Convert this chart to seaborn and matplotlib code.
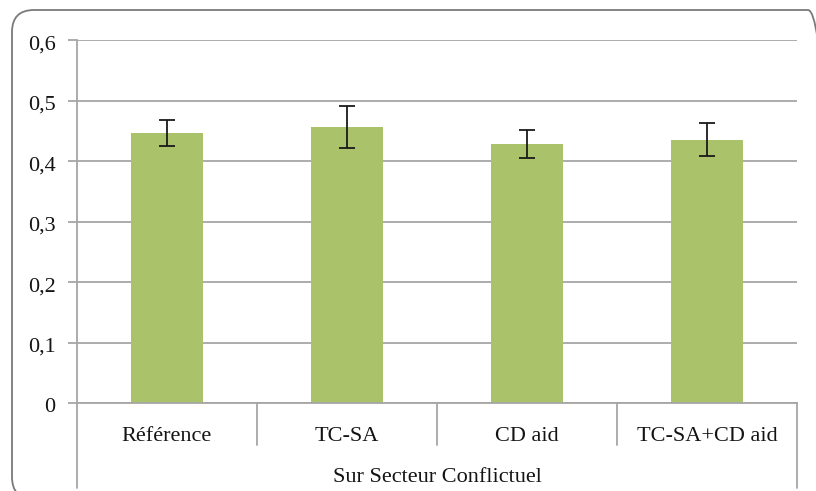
import matplotlib
matplotlib.use("Agg")
import matplotlib.pyplot as plt
from matplotlib.patches import FancyBboxPatch
from matplotlib.transforms import (IdentityTransform, ScaledTranslation,
                                   blended_transform_factory)
import pandas as pd
import seaborn as sns

categories = ["Référence", "TC-SA", "CD aid", "TC-SA+CD aid"]
means = [0.446, 0.456, 0.428, 0.435]
errors = [0.021, 0.035, 0.023, 0.027]
y_ticks = [0, 0.1, 0.2, 0.3, 0.4, 0.5, 0.6]
y_tick_labels = ["0", "0,1", "0,2", "0,3", "0,4", "0,5", "0,6"]
group_label = "Sur Secteur Conflictuel"

sns.set_style("white")
plt.rcParams["font.family"] = ["Liberation Serif", "DejaVu Serif"]

BAR = "#AAC36A"
GRID = "#A6A6A6"
TEXT = "#141414"

fig = plt.figure(figsize=(8.16, 4.91), dpi=100)
W, H = 816, 491
ax = fig.add_axes([77 / W, 88 / H, 720 / W, 363 / H])

df = pd.DataFrame({"cat": categories, "val": means})
sns.barplot(data=df, x="cat", y="val", color=BAR, saturation=1, width=0.4,
            errorbar=None, linewidth=0, ax=ax, zorder=2)
ax.errorbar(range(len(categories)), means, yerr=errors, fmt="none",
            ecolor="#1a1a1a", elinewidth=1.3, capsize=5.5, capthick=1.3, zorder=3)

ax.set_xlim(-0.5, len(categories) - 0.5)
ax.set_ylim(0, 0.6)
ax.set_yticks(y_ticks)
ax.set_yticklabels(y_tick_labels)
ax.set_xlabel("")
ax.set_ylabel("")

ax.set_axisbelow(True)
ax.yaxis.grid(True, color=GRID, linewidth=1.3)
ax.xaxis.grid(False)
for side in ("top", "right"):
    ax.spines[side].set_visible(False)
for side in ("left", "bottom"):
    ax.spines[side].set_color(GRID)
    ax.spines[side].set_linewidth(1.3)

ax.tick_params(axis="y", which="major", left=True, length=6.5, width=1.3,
               color=GRID, pad=9, labelsize=16, labelcolor=TEXT)
ax.tick_params(axis="x", which="major", bottom=False, length=0, pad=27.4,
               labelsize=16, labelcolor=TEXT)
for lbl in ax.get_xticklabels():
    lbl.set_verticalalignment("baseline")
shift = ScaledTranslation(0, -2.5 / 100, fig.dpi_scale_trans)
for lbl in ax.get_yticklabels():
    lbl.set_transform(lbl.get_transform() + shift)

# category separators below the axis
trans = blended_transform_factory(ax.transData, ax.transAxes)
n = len(categories)
for i in range(n + 1):
    x = i - 0.5
    y_end = -0.234 if i in (0, n) else -0.116
    ax.plot([x, x], [0, y_end], transform=trans, color=GRID, linewidth=1.3,
            clip_on=False, zorder=1)

ax.text((n - 1) / 2, -(482 - 403) / 363, group_label, transform=trans,
        ha="center", va="baseline", fontsize=16, color=TEXT)

# rounded chart frame
frame = FancyBboxPatch((12, -8), 818, H - 10 + 8,
                       boxstyle="round,pad=0,rounding_size=22",
                       transform=IdentityTransform(), facecolor="none",
                       edgecolor="#7a7a7a", linewidth=1.3)
fig.patches.append(frame)

fig.savefig("out.png", dpi=100)
